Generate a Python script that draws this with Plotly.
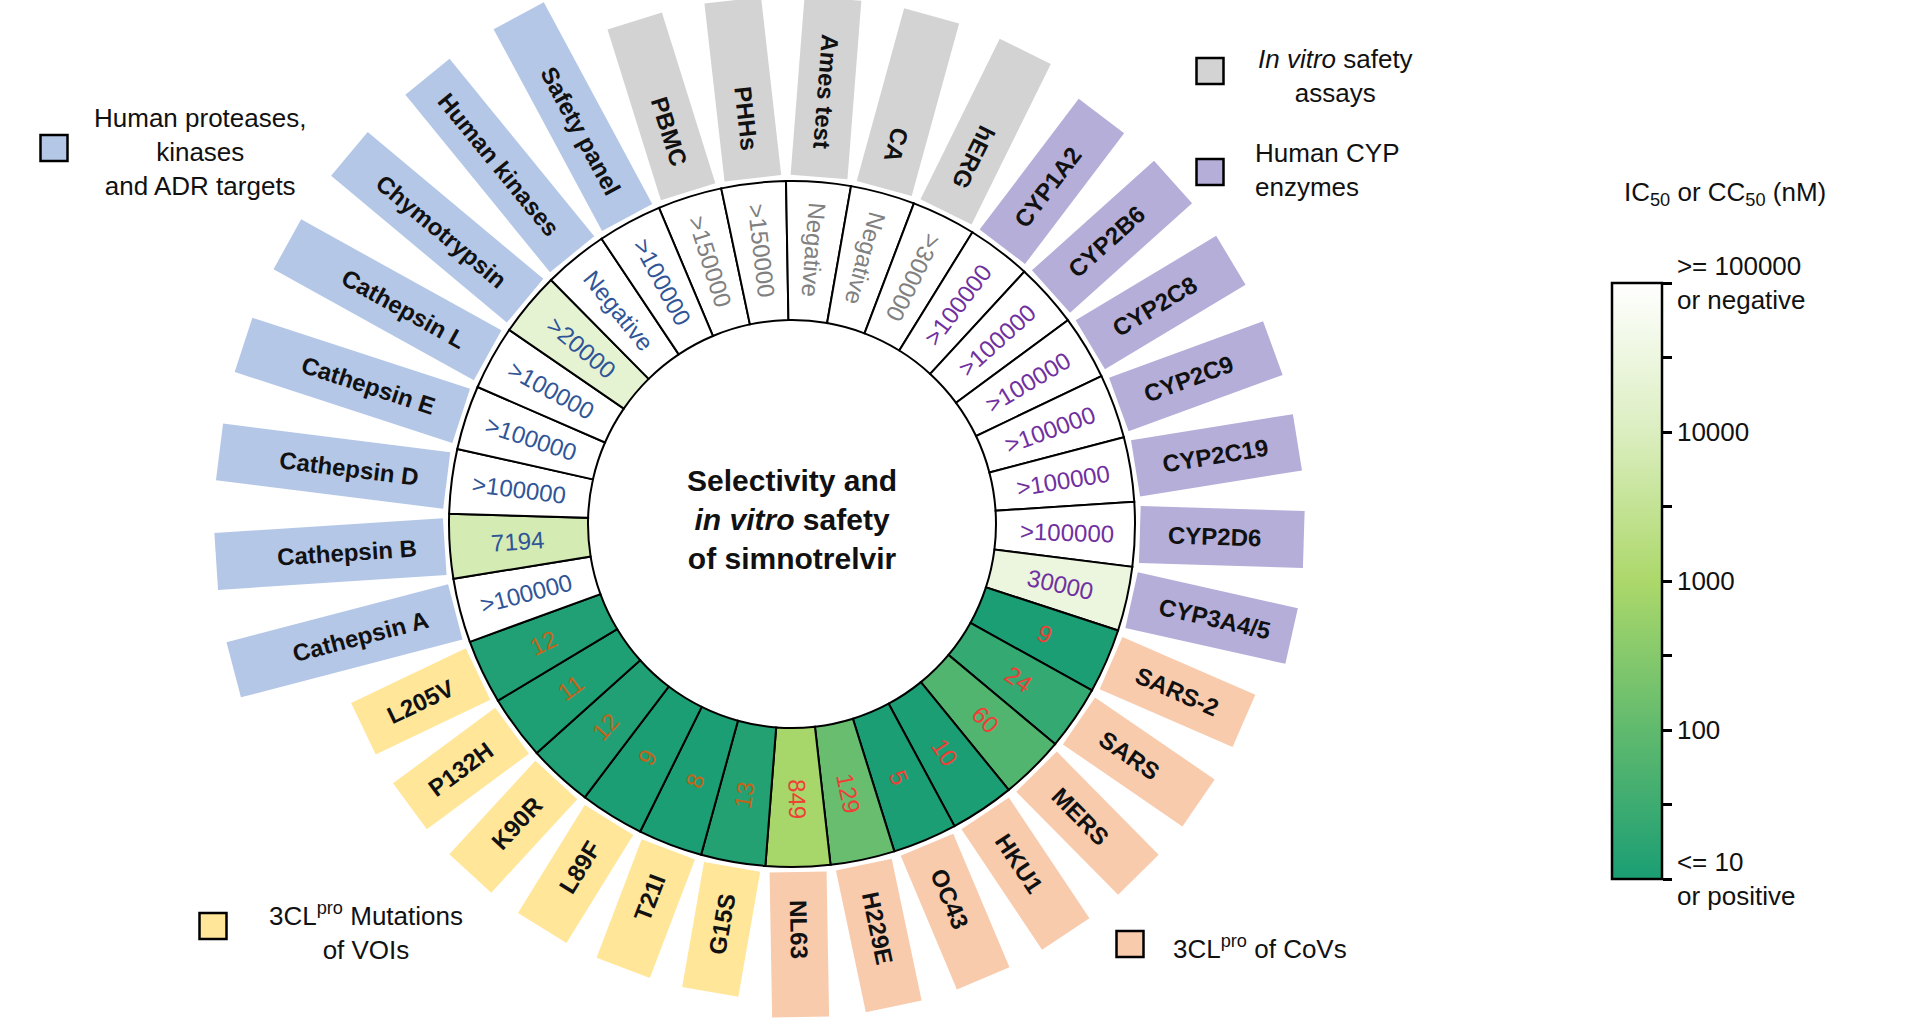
import math
import plotly.graph_objects as go

# ---------------- data ----------------
categories = ["PBMC", "PHHs", "Ames test", "CA", "hERG",
              "CYP1A2", "CYP2B6", "CYP2C8", "CYP2C9", "CYP2C19", "CYP2D6", "CYP3A4/5",
              "SARS-2", "SARS", "MERS", "HKU1", "OC43", "H229E", "NL63",
              "G15S", "T21I", "L89F", "K90R", "P132H", "L205V",
              "Cathepsin A", "Cathepsin B", "Cathepsin D", "Cathepsin E", "Cathepsin L",
              "Chymotrypsin", "Human kinases", "Safety panel"]
groups = (["safety"] * 5 + ["cyp"] * 7 + ["cov"] * 7 + ["mut"] * 6 + ["prot"] * 8)
value_labels = [">150000", ">150000", "Negative", "Negative", ">300000",
                ">100000", ">100000", ">100000", ">100000", ">100000", ">100000", "30000",
                "9", "24", "60", "10", "5", "129", "849",
                "13", "8", "9", "12", "11", "12",
                ">100000", "7194", ">100000", ">100000", ">100000", ">20000", "Negative", ">100000"]
# numeric IC50 / CC50 in nM (None = negative)
values_nM = [150000, 150000, None, None, 300000,
             100000, 100000, 100000, 100000, 100000, 100000, 30000,
             9, 24, 60, 10, 5, 129, 849,
             13, 8, 9, 12, 11, 12,
             100000, 7194, 100000, 100000, 100000, 20000, None, 100000]

legend_groups = ["prot", "safety", "cyp", "mut", "cov"]
legend_texts = ["Human proteases,<br>kinases<br>and ADR targets",
                "<i>In vitro</i> safety<br>assays",
                "Human CYP<br>enzymes",
                "3CL<sup>pro</sup> Mutations<br>of VOIs",
                "3CL<sup>pro</sup> of CoVs"]

cbar_tickvals = [1, 1.5, 2, 2.5, 3, 3.5, 4, 4.5, 5]
cbar_ticktext = ["<= 10<br>or positive", "", "100", "", "1000", "", "10000", "",
                 ">= 100000<br>or negative"]

# ---------------- styles ----------------
FONT = "Liberation Sans, Arial, sans-serif"
block_color = {"safety": "#d3d3d3", "cyp": "#b4aed9", "cov": "#f8cbad",
               "mut": "#ffe699", "prot": "#b4c7e7"}
value_color = {"safety": "#808080", "cyp": "#7030a0", "cov": "#ee4035",
               "mut": "#c0651a", "prot": "#2f5597"}
block_outer = {"safety": 527, "cyp": 512, "cov": 493, "mut": 475, "prot": 577}

W, H = 1920, 1026
CX, CY = 792, 524          # ring centre (px, screen coords)
R_IN, R_OUT = 204, 343
RP = 360                   # polar radius in px
ROT = -1.0                 # small rotation of the wheel (deg)
BLOCK_IN, BLOCK_HALF = 348, 28.5
LABEL_START = 376
CELL_R = 275

colorscale = [[0.0, "#1b9e74"], [0.25, "#60ba6e"], [0.5, "#acd86a"],
              [0.75, "#dbeec0"], [1.0, "#ffffff"]]

n = len(categories)
step = 360.0 / n
thetas = [(i - 2 + 0.5) * step for i in range(n)]
cvals = [5.0 if v is None else min(5.0, max(1.0, math.log10(v))) for v in values_nM]

AB = {' ': 278, 'A': 722, 'B': 722, 'C': 722, 'D': 722, 'E': 667, 'F': 611, 'G': 778,
      'H': 722, 'I': 278, 'K': 722, 'L': 611, 'M': 833, 'N': 722, 'O': 778, 'P': 667,
      'R': 722, 'S': 667, 'T': 611, 'U': 722, 'V': 667, 'Y': 667,
      'a': 556, 'b': 611, 'c': 556, 'd': 611, 'e': 556, 'f': 333, 'g': 611, 'h': 611,
      'i': 278, 'k': 556, 'l': 278, 'm': 889, 'n': 611, 'o': 611, 'p': 611, 'r': 389,
      's': 556, 't': 333, 'u': 611, 'v': 556, 'y': 556, '/': 278, '-': 333}


def text_w(s, size):
    return sum(AB.get(c, 556) for c in s) / 1000.0 * size


def pt(r, th):
    a = math.radians(th)
    return CX + r * math.sin(a), CY - r * math.cos(a)


def text_angle(th):
    th = th % 360
    if 33 <= th <= 185:
        return th - 90
    if th < 33:
        return th + 90
    return th - 270


fig = go.Figure()

# label blocks (cartesian, below the ring)
for i, cat in enumerate(categories):
    g = groups[i]
    th = thetas[i] + ROT
    a = math.radians(th)
    ux, uy = math.sin(a), -math.cos(a)
    vx, vy = math.cos(a), math.sin(a)
    r1, r2 = BLOCK_IN, block_outer[g]
    xs = [CX + r1 * ux + BLOCK_HALF * vx, CX + r2 * ux + BLOCK_HALF * vx,
          CX + r2 * ux - BLOCK_HALF * vx, CX + r1 * ux - BLOCK_HALF * vx]
    ys = [CY + r1 * uy + BLOCK_HALF * vy, CY + r2 * uy + BLOCK_HALF * vy,
          CY + r2 * uy - BLOCK_HALF * vy, CY + r1 * uy - BLOCK_HALF * vy]
    xs.append(xs[0]); ys.append(ys[0])
    fig.add_trace(go.Scatter(x=xs, y=ys, mode="lines", fill="toself",
                             fillcolor=block_color[g], line=dict(width=0),
                             hoverinfo="skip", showlegend=False))

# ring cells (polar)
fig.add_trace(go.Barpolar(
    r=[R_OUT - R_IN] * n, base=[R_IN] * n, theta=thetas, width=[step] * n,
    marker=dict(color=cvals, colorscale=colorscale, cmin=1, cmax=5,
                line=dict(color="black", width=2),
                colorbar=dict(x=1612 / W, xanchor="left", xpad=0, ypad=0,
                              y=(H - 581) / H, yanchor="middle",
                              len=596 / H, lenmode="fraction",
                              thickness=50, thicknessmode="pixels",
                              outlinewidth=2.5, outlinecolor="black",
                              tickvals=cbar_tickvals, ticktext=cbar_ticktext,
                              ticks="outside", ticklen=9, tickwidth=3,
                              tickcolor="black",
                              tickfont=dict(family=FONT, size=26, color="#111111"))),
    hoverinfo="skip", showlegend=False))

ann = []
# value text in cells
for i in range(n):
    th = thetas[i] + ROT
    x, y = pt(CELL_R, th)
    ann.append(dict(x=x, y=y, xref="x", yref="y", text=value_labels[i], showarrow=False,
                    textangle=text_angle(th), xanchor="center", yanchor="middle",
                    font=dict(family=FONT, size=24, color=value_color[groups[i]])))
# category labels in blocks
for i, cat in enumerate(categories):
    th = thetas[i] + ROT
    rc = LABEL_START + text_w(cat, 24) / 2
    x, y = pt(rc, th)
    ann.append(dict(x=x, y=y, xref="x", yref="y", text="<b>%s</b>" % cat, showarrow=False,
                    textangle=text_angle(th), xanchor="center", yanchor="middle",
                    font=dict(family=FONT, size=24, color="#111111")))

# centre title
ann.append(dict(x=CX, y=519, xref="x", yref="y",
                text="<b>Selectivity and<br><i>in vitro</i> safety<br>of simnotrelvir</b>",
                showarrow=False, align="center", xanchor="center", yanchor="middle",
                font=dict(family=FONT, size=30, color="#111111")))

# colorbar title
ann.append(dict(x=1622, y=193, xref="x", yref="y",
                text="IC<sub>50</sub> or CC<sub>50</sub> (nM)", showarrow=False,
                xanchor="left", yanchor="middle",
                font=dict(family=FONT, size=26, color="#111111")))

# legend boxes + texts
leg_box = [(54, 148), (1210, 71), (1210, 172), (213, 926), (1130, 944)]
leg_txt = [(200, 152, "center", "center"), (1335, 76, "center", "center"),
           (1253, 170, "left", "left"), (366, 931, "center", "center"),
           (1171, 947, "left", "left")]
shapes = []
for k, g in enumerate(legend_groups):
    bx, by = leg_box[k]
    shapes.append(dict(type="rect", xref="x", yref="y", x0=bx - 13.5, x1=bx + 13.5,
                       y0=by - 13, y1=by + 13, fillcolor=block_color[g],
                       line=dict(color="black", width=2.5)))
    tx, ty, xa, al = leg_txt[k]
    ann.append(dict(x=tx, y=ty, xref="x", yref="y", text=legend_texts[k], showarrow=False,
                    xanchor=xa, yanchor="middle", align=al,
                    font=dict(family=FONT, size=26, color="#111111")))

fig.update_layout(
    width=W, height=H, autosize=False,
    margin=dict(l=0, r=0, t=0, b=0),
    paper_bgcolor="white", plot_bgcolor="rgba(0,0,0,0)",
    xaxis=dict(range=[0, W], visible=False, fixedrange=True, domain=[0, 1]),
    yaxis=dict(range=[H, 0], visible=False, fixedrange=True, domain=[0, 1]),
    polar=dict(domain=dict(x=[(CX - RP) / W, (CX + RP) / W],
                           y=[(H - CY - RP) / H, (H - CY + RP) / H]),
               bgcolor="rgba(0,0,0,0)",
               radialaxis=dict(visible=False, range=[0, RP]),
               angularaxis=dict(visible=False, rotation=90 - ROT, direction="clockwise")),
    annotations=ann, shapes=shapes, showlegend=False,
)

fig.write_html("out.html", config={"displayModeBar": False},
               post_script="document.body.style.margin='0';document.body.style.overflow='hidden';")
